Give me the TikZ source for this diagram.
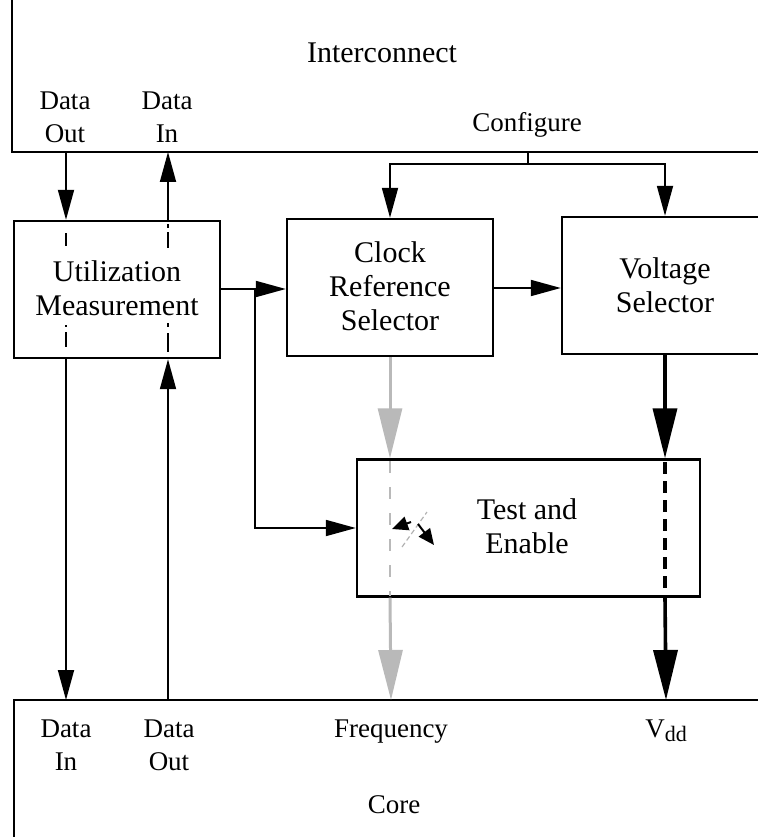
\documentclass[tikz,border=0pt]{standalone}
\usepackage{fontspec}
\setmainfont{Liberation Serif}
\usetikzlibrary{arrows.meta}
\tikzset{
  box/.style={draw, line width=2.4pt, minimum height=137pt, inner sep=0pt},
  boxtxt/.style={align=center, font=\fontsize{30}{34}\selectfont, inner sep=0pt},
  lbl/.style={align=center, font=\fontsize{27}{33}\selectfont, inner sep=0pt},
  arr/.style={line width=1.8pt, -{Triangle[length=30pt,width=16pt]}},
  bigarr/.style={line width=3.6pt, -{Triangle[length=50pt,width=24pt]}},
  grayarr/.style={line width=3pt, draw=gray!55, -{Triangle[length=50pt,width=24pt,fill=gray!55]}},
  edge/.style={line width=2pt},
}
\begin{document}
\begin{tikzpicture}[x=1pt,y=-1pt]
\useasboundingbox (0,0) rectangle (757,837);
% Interconnect and core outlines
\coordinate (icTop) at (12,0);
\coordinate (icCorner) at (12,152);
\coordinate (icRight) at (760,152);
\draw[edge] (icTop) -- (icCorner) -- (icRight);
\coordinate (coBot) at (14,840);
\coordinate (coCorner) at (14,700);
\coordinate (coRight) at (760,700);
\draw[edge] (coBot) -- (coCorner) -- (coRight);

\node[lbl, anchor=base] (ictitle) at (382,63) {\fontsize{30}{34}\selectfont Interconnect};
\node[lbl, anchor=base] (icdo) at (65,143) {Data\\Out};
\node[lbl, anchor=base] (icdi) at (167,143) {Data\\In};
\node[lbl, anchor=base] (cfg) at (527,132) {Configure};

% boxes
\node[box, minimum width=206pt] (util) at (117,289.5) {};
\node[boxtxt, anchor=base] (utiltxt) at (117,315) {Utilization\\Measurement};
\node[box, minimum width=206pt] (clock) at (390,287.5) {};
\node[boxtxt, anchor=base] (clocktxt) at (390,330) {Clock\\Reference\\Selector};
\node[box, minimum width=206pt] (volt) at (665,285.5) {};
\node[boxtxt, anchor=base] (volttxt) at (665,312) {Voltage\\Selector};
\node[box, minimum width=343pt] (test) at (528.5,528) {};
\node[boxtxt, anchor=base] (testtxt) at (527,553) {Test and\\Enable};

% core labels
\node[lbl, anchor=base] (codi) at (66,770) {Data\\In};
\node[lbl, anchor=base] (codo) at (169,770) {Data\\Out};
\node[lbl, anchor=base] (freq) at (391,737) {Frequency};
\node[lbl, anchor=base] (vdd) at (666,737) {V\raisebox{-0.35ex}{\fontsize{22}{22}\selectfont dd}};
\node[lbl, anchor=base] (core) at (394,813) {Core};

% ports
\coordinate (pDO) at (66,152);
\coordinate (pDI) at (168,152);
\coordinate (cDI) at (66,700);
\coordinate (cDO) at (168,700);
\coordinate (cfgTop) at (528,152);
\coordinate (cfgJ) at (528,164);

% data arrows
\draw[arr] (pDO) -- (pDO |- util.north);
\draw[arr] (pDI |- util.north) -- (pDI);
\draw[arr] (cDI |- util.south) -- (cDI);
\draw[arr] (cDO) -- (cDO |- util.south);
% dashed through util
\draw[line width=1.8pt] (66,233) -- (66,246);
\draw[line width=1.8pt] (66,325) -- (66,327);
\draw[line width=1.8pt] (66,332) -- (66,347);
\draw[line width=1.8pt] (168,224) -- (168,228);
\draw[line width=1.8pt] (168,232) -- (168,248);
\draw[line width=1.8pt] (168,323) -- (168,327);
\draw[line width=1.8pt] (168,333) -- (168,352);

% configure tree
\draw[edge] (cfgTop) -- (cfgJ);
\draw[arr] (cfgJ) -| (clock.north);
\draw[arr] (cfgJ) -| (volt.north);

% util -> clock, branch -> test
\coordinate (br) at (255,289);
\draw[arr] (util.east |- br) -- (clock.west |- br);
\draw[arr] (br) |- (test.west |- 0,528);
\draw[arr] (clock.east |- 0,288) -- (volt.west |- 0,288);

% frequency (gray)
\draw[grayarr] (clock.south) -- (test.north -| clock.south);
\draw[line width=2.5pt, gray!55, dash pattern=on 12pt off 14pt] (390,461) -- (390,596);
\draw[grayarr] (test.south -| clock.south) -- (freq.north |- coCorner) ;

% switch symbol
\draw[line width=1.2pt, gray!60, dash pattern=on 5pt off 3pt] (402,547) -- (427,512);
\draw[line width=2pt, -{Triangle[length=16pt,width=14pt]}] (411,522) -- (392,529);
\draw[line width=2pt, -{Triangle[length=16pt,width=14pt]}] (418,524) -- (434,545);

% Vdd
\draw[bigarr] (volt.south) -- (test.north -| volt.south);
\draw[line width=3.6pt, dash pattern=on 12pt off 7pt] (665,462) -- (665,596);
\draw[bigarr] (test.south -| volt.south) -- (vdd.north |- coCorner);
\end{tikzpicture}
\end{document}
